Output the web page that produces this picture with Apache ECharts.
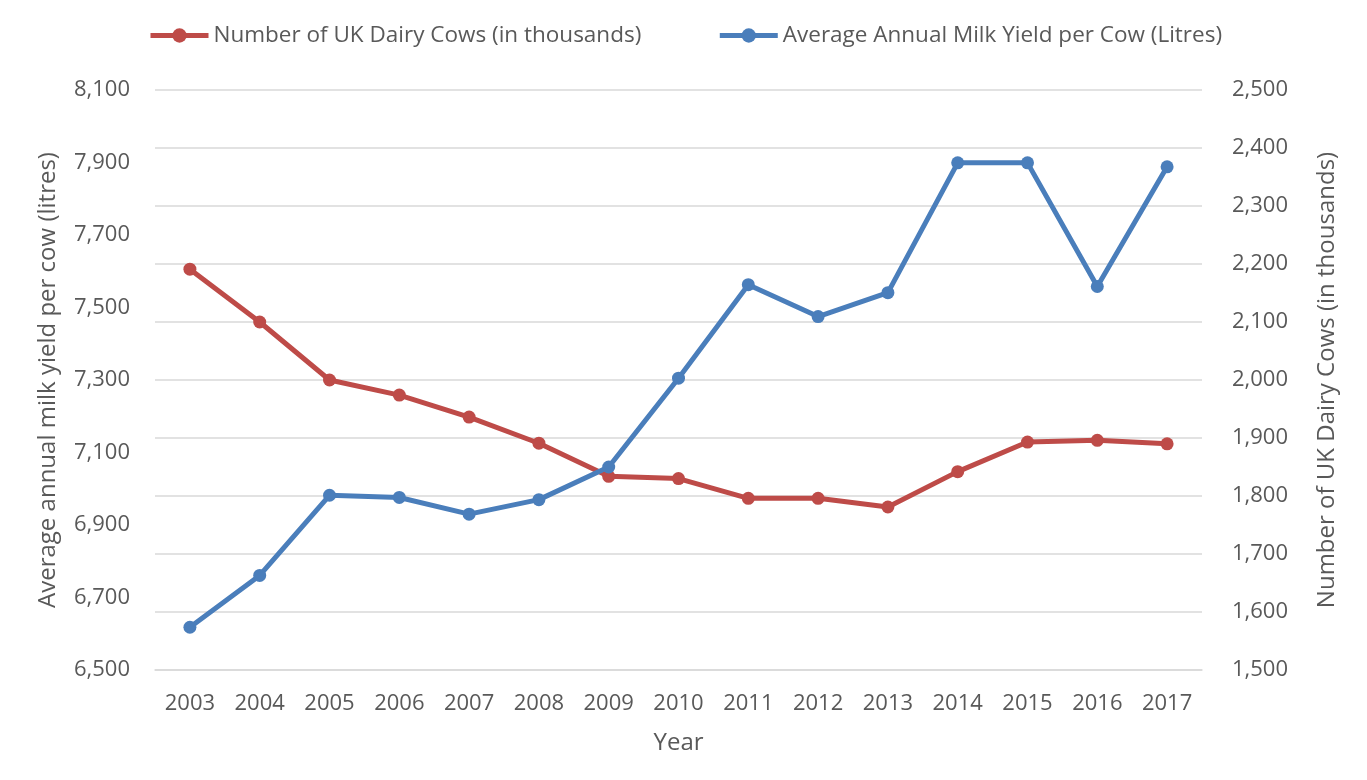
<!DOCTYPE html>
<html>
<head>
<meta charset="utf-8">
<title>UK Dairy Cows and Milk Yield</title>
<script src="https://cdn.jsdelivr.net/npm/echarts@6/dist/echarts.min.js"></script>
<style>
  html, body { margin: 0; padding: 0; background: #fff; }
  #main { width: 1367px; height: 780px; }
</style>
</head>
<body>
<div id="main"></div>
<script>
// data
var years = ['2003', '2004', '2005', '2006', '2007', '2008', '2009', '2010',
  '2011', '2012', '2013', '2014', '2015', '2016', '2017'];
var cows = [2191, 2100, 2000, 1974, 1936, 1891, 1834, 1830, 1796, 1796, 1781, 1842, 1893, 1896, 1890];
var milkYield = [6618, 6761, 6982, 6976, 6930, 6970, 7060, 7305, 7563, 7475, 7541, 7899, 7899, 7558, 7888];

var cowsName = 'Number of UK Dairy Cows (in thousands)';
var milkName = 'Average Annual Milk Yield per Cow (Litres)';

var textColor = '#595959';
var font = '"Open Sans", "Noto Sans", sans-serif';
var red = '#BE4B48';
var blue = '#4A7EBB';

function fmt(v) {
  return Number(v).toLocaleString('en-US');
}

var chart = echarts.init(document.getElementById('main'));

var option = {
  backgroundColor: '#fff',
  animation: false,
  textStyle: { fontFamily: font, color: textColor },
  legend: {
    data: [cowsName, milkName],
    left: 143,
    top: 19,
    itemWidth: 58,
    itemHeight: 18,
    itemGap: 76,
    lineStyle: { width: 5 },
    textStyle: { fontSize: 22.5, color: textColor, fontFamily: font }
  },
  grid: {
    left: 155,
    right: 165,
    top: 90,
    bottom: 110,
    containLabel: false
  },
  xAxis: {
    type: 'category',
    data: years,
    boundaryGap: true,
    name: 'Year',
    nameLocation: 'middle',
    nameGap: 61,
    nameTextStyle: { fontSize: 24, color: textColor },
    axisLine: { lineStyle: { color: '#d9d9d9', width: 1.5 } },
    axisTick: { show: false },
    axisLabel: { fontSize: 22, color: textColor, margin: 23 }
  },
  yAxis: [
    {
      type: 'value',
      position: 'left',
      min: 6500,
      max: 8100,
      interval: 200,
      name: 'Average annual milk yield per cow (litres)',
      nameLocation: 'middle',
      nameGap: 95,
      nameTextStyle: { fontSize: 24, color: textColor },
      axisLine: { show: false },
      axisTick: { show: false },
      splitLine: { show: false },
      axisLabel: { fontSize: 22, color: textColor, margin: 25, formatter: fmt }
    },
    {
      type: 'value',
      position: 'right',
      min: 1500,
      max: 2500,
      interval: 100,
      name: 'Number of UK Dairy Cows (in thousands)',
      nameLocation: 'middle',
      nameGap: 113,
      nameRotate: 90,
      nameTextStyle: { fontSize: 24, color: textColor },
      axisLine: { show: false },
      axisTick: { show: false },
      splitLine: { show: true, lineStyle: { color: '#d9d9d9', width: 1.5 } },
      axisLabel: { fontSize: 22, color: textColor, margin: 30, formatter: fmt }
    }
  ],
  series: [
    {
      name: cowsName,
      type: 'line',
      yAxisIndex: 1,
      data: cows,
      symbol: 'circle',
      symbolSize: 13,
      lineStyle: { color: red, width: 5 },
      itemStyle: { color: red }
    },
    {
      name: milkName,
      type: 'line',
      yAxisIndex: 0,
      data: milkYield,
      symbol: 'circle',
      symbolSize: 13,
      lineStyle: { color: blue, width: 5 },
      itemStyle: { color: blue }
    }
  ]
};

chart.setOption(option);
</script>
</body>
</html>
